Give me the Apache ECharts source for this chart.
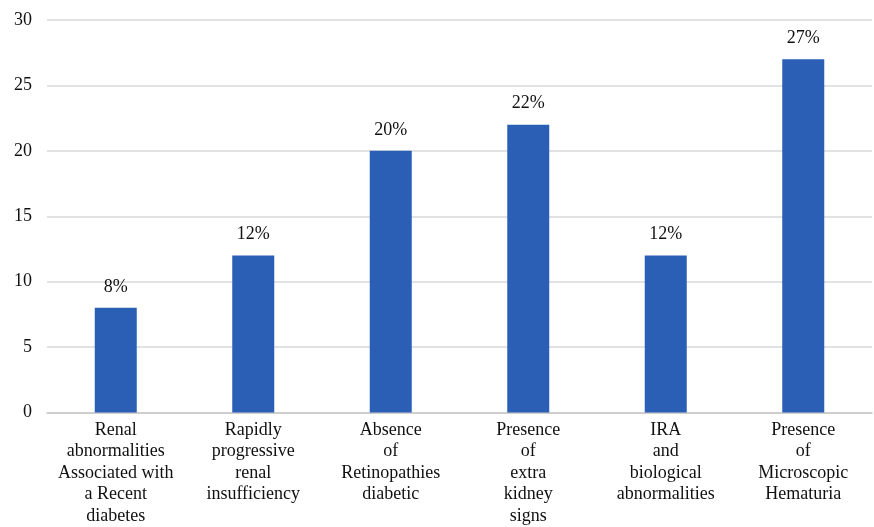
<!DOCTYPE html>
<html><head><meta charset="utf-8">
<script src="https://cdn.jsdelivr.net/npm/echarts@6/dist/echarts.min.js"></script>
<style>html,body{margin:0;padding:0;background:#fff}#c{width:874px;height:527px}</style>
</head><body><div id="c"></div>
<script>
const categories = [
  "Renal\nabnormalities\nAssociated with\na Recent\ndiabetes",
  "Rapidly\nprogressive\nrenal\ninsufficiency",
  "Absence\nof\nRetinopathies\ndiabetic",
  "Presence\nof\nextra\nkidney\nsigns",
  "IRA\nand\nbiological\nabnormalities",
  "Presence\nof\nMicroscopic\nHematuria"
];
const values = [8, 12, 20, 22, 12, 27];
const yTicks = [0, 5, 10, 15, 20, 25, 30];
const font = "'Liberation Serif', 'DejaVu Serif', serif";
const chart = echarts.init(document.getElementById('c'));
chart.setOption({
  animation: false,
  grid: { left: 47, right: 2, top: 20, bottom: 113 },
  xAxis: {
    type: 'category', data: categories,
    axisLine: { lineStyle: { color: '#c8c8c8', width: 1.5 } },
    axisTick: { show: false },
    axisLabel: { color: '#111', fontFamily: font, fontSize: 18, lineHeight: 21.5, margin: 7, interval: 0 }
  },
  yAxis: {
    type: 'value', min: yTicks[0], max: yTicks[yTicks.length - 1], interval: 5,
    axisLine: { show: false }, axisTick: { show: false },
    splitLine: { lineStyle: { color: '#d9d9d9', width: 1.5 } },
    axisLabel: { color: '#111', fontFamily: font, fontSize: 18, margin: 15 }
  },
  series: [{
    type: 'bar', data: values, barWidth: 42,
    itemStyle: { color: '#2a5fb5' },
    label: { show: true, position: 'top', distance: 12, formatter: '{c}%', color: '#111', fontFamily: font, fontSize: 18 }
  }]
});
</script></body></html>
